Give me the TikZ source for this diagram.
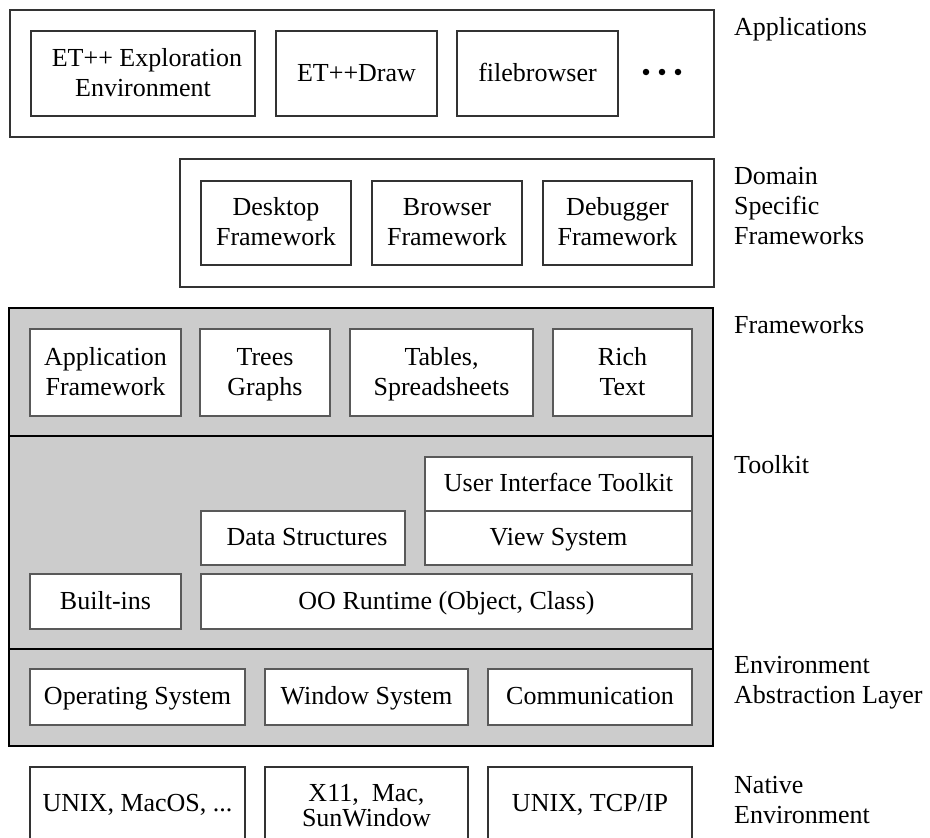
\documentclass[tikz,border=0pt]{standalone}
\usepackage{fontspec}
\setmainfont{Liberation Serif}
\newcommand\lbox[7]{\node[#1, minimum width={(#5)-(#3)}, minimum height={(#6)-(#4)}] (#2) at ({((#3)+(#5))/2},{((#4)+(#6))/2}) {#7};}
\begin{document}
\begin{tikzpicture}[x=1pt,y=-1pt,
  txt/.style={font=\fontsize{26}{30}\selectfont},
  outerbox/.style={draw=black!80, line width=1.3pt, fill=white, inner sep=0pt},
  box/.style={txt, draw=black!80, line width=1.1pt, fill=white, align=center, inner sep=0pt, text height=20pt, text depth=5pt},
  gbox/.style={box, draw=black!65},
  two/.style={text height=50pt},
  layer/.style={draw=black, line width=1.8pt, fill=black!20, inner sep=0pt},
  divider/.style={draw=black, line width=1.5pt},
  lab/.style={txt, anchor=base west, inner sep=0pt},
  dot/.style={circle, fill=black, inner sep=0pt, minimum size=6.5pt}]
\useasboundingbox (0,0) rectangle (930,838);
\clip (0,0) rectangle (930,838);
\fill[white] (0,0) rectangle (930,838);
% Applications
\lbox{outerbox}{apps}{10}{10}{714}{137}{}
\lbox{box,two}{etexp}{31}{31}{255}{116}{\hspace*{8pt}ET++ Exploration\\Environment}
\lbox{box}{etdraw}{276}{31}{437}{116}{ET++Draw}
\lbox{box}{fbrowser}{457}{31}{618}{116}{filebrowser}
\node[dot] (dot1) at (646,72) {};
\node[dot] (dot2) at (662,72) {};
\node[dot] (dot3) at (678,72) {};
% Domain specific frameworks
\lbox{outerbox}{domain}{180}{159}{714}{287}{}
\lbox{box,two}{desktop}{201}{181}{351}{265}{Desktop\\Framework}
\lbox{box,two}{browser}{372}{181}{522}{265}{Browser\\Framework}
\lbox{box,two}{debugger}{543}{181}{692}{265}{Debugger\\Framework}
% Core (gray)
\lbox{layer}{core}{9}{308}{713}{746}{}
\draw[divider] (core.west |- 0,436) -- (core.east |- 0,436);
\draw[divider] (core.west |- 0,649) -- (core.east |- 0,649);
\lbox{gbox,two}{appfw}{30}{329}{181}{416}{Application\\Framework}
\lbox{gbox,two}{trees}{200}{329}{330}{416}{Trees\\Graphs}
\lbox{gbox,two}{tables}{350}{329}{533}{416}{Tables,\\Spreadsheets}
\lbox{gbox,two}{rich}{553}{329}{692}{416}{Rich\\Text}
\lbox{gbox}{uitk}{425}{457}{692}{511}{User Interface Toolkit}
\lbox{gbox}{view}{425}{511}{692}{565}{View System}
\lbox{gbox}{datastr}{201}{511}{405}{565}{\hspace*{8pt}Data Structures}
\lbox{gbox}{builtins}{30}{574}{181}{629}{Built-ins}
\lbox{gbox}{oort}{201}{574}{692}{629}{OO Runtime (Object, Class)}
\lbox{gbox}{os}{30}{669}{245}{725}{Operating System}
\lbox{gbox}{winsys}{265}{669}{468}{725}{Window System}
\lbox{gbox}{comm}{488}{669}{692}{725}{Communication}
% Native
\lbox{box}{unixmac}{30}{767}{245}{840}{UNIX, MacOS, ...}
\lbox{box,two}{x11}{265}{767}{468}{840}{X11,\ \ Mac,\\[-5pt]SunWindow}
\lbox{box}{tcpip}{488}{767}{692}{840}{UNIX, TCP/IP}
% Labels
\node[lab] (labApps) at (734,35) {Applications};
\node[lab] (labDom1) at (734,184) {Domain};
\node[lab] (labDom2) at (734,214) {Specific};
\node[lab] (labDom3) at (734,244) {Frameworks};
\node[lab] (labFw) at (734,333) {Frameworks};
\node[lab] (labTk) at (734,473) {Toolkit};
\node[lab] (labEnv1) at (734,673) {Environment};
\node[lab] (labEnv2) at (734,703) {Abstraction Layer};
\node[lab] (labNat1) at (734,793) {Native};
\node[lab] (labNat2) at (734,823) {Environment};
\end{tikzpicture}
\end{document}
